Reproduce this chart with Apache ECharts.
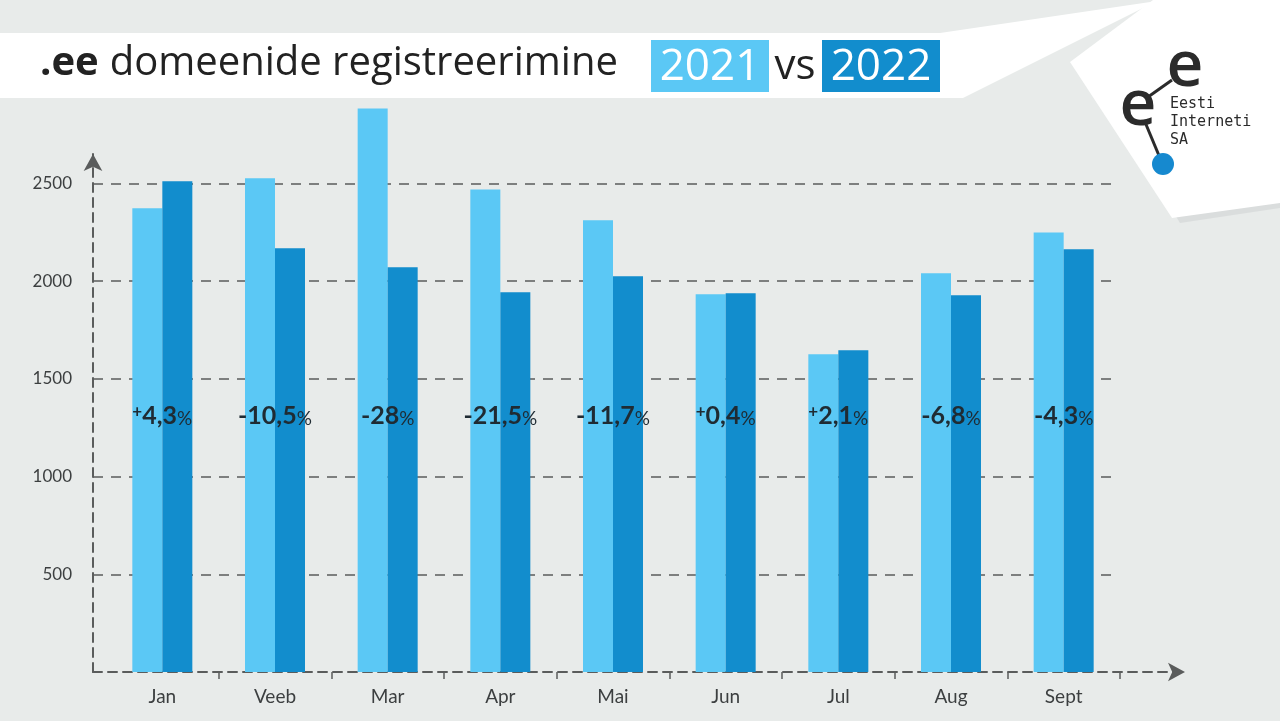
<!DOCTYPE html>
<html>
<head>
<meta charset="utf-8">
<title>.ee domeenide registreerimine</title>
<script src="https://cdn.jsdelivr.net/npm/echarts@6/dist/echarts.min.js"></script>
<style>
  html, body { margin: 0; padding: 0; background: #e8ebea; }
  #chart { width: 1280px; height: 721px; }
</style>
</head>
<body>
<div id="chart"></div>
<script>
// data
const months = ["Jan", "Veeb", "Mar", "Apr", "Mai", "Jun", "Jul", "Aug", "Sept"];
const regs2021 = [2372, 2526, 2883, 2469, 2311, 1933, 1626, 2040, 2249];
const regs2022 = [2510, 2168, 2071, 1943, 2025, 1938, 1646, 1927, 2163];
const changes = ["+4,3", "-10,5", "-28", "-21,5", "-11,7", "+0,4", "+2,1", "-6,8", "-4,3"];
const yTicks = [500, 1000, 1500, 2000, 2500];
const labelLevel = 1310;

const light = "#5bc8f5";
const dark = "#128dcd";
const axisGrey = "#5a5c5c";
const font = "Lato";

const chart = echarts.init(document.getElementById("chart"));

const gridTop = 154;
const gridBottom = 721 - 672;

const option = {
  backgroundColor: "#e8ebea",
  animation: false,
  grid: [
    // bars
    { left: 106, right: 160, top: gridTop, bottom: gridBottom },
    // y axis frame + split lines
    { left: 93, right: 162, top: gridTop, bottom: gridBottom },
    // x axis arrow line
    { left: 93, right: 95, top: gridTop, bottom: gridBottom },
  ],
  xAxis: [
    {
      gridIndex: 0,
      type: "category",
      data: months,
      axisLine: { show: false },
      axisTick: {
        show: true,
        length: 7,
        interval: (i) => i > 0,
        lineStyle: { color: axisGrey, width: 1.5 },
      },
      axisLabel: {
        margin: 15,
        fontFamily: font,
        fontSize: 19,
        color: "#3c3f40",
      },
    },
    { gridIndex: 1, type: "value", min: 0, max: 1, show: false },
    {
      gridIndex: 2,
      type: "value",
      min: 0,
      max: 1,
      axisLine: {
        show: true,
        symbol: ["none", "arrow"],
        symbolSize: [14, 17],
        lineStyle: { color: axisGrey, width: 2, type: [9, 6] },
      },
      axisTick: { show: false },
      axisLabel: { show: false },
      splitLine: { show: false },
    },
  ],
  yAxis: [
    { gridIndex: 0, type: "value", min: 0, max: 2650, show: false },
    {
      gridIndex: 1,
      type: "value",
      min: 0,
      max: 2650,
      interval: 500,
      axisLine: {
        show: true,
        symbol: ["none", "arrow"],
        symbolSize: [14, 17],
        lineStyle: { color: axisGrey, width: 2, type: [9, 6] },
      },
      axisTick: { show: false },
      axisLabel: {
        margin: 21,
        fontFamily: font,
        fontSize: 17,
        color: "#3c3f40",
        formatter: (v) => (yTicks.includes(v) ? String(v) : ""),
      },
      splitLine: {
        show: true,
        showMinLine: false,
        showMaxLine: false,
        lineStyle: { color: axisGrey, width: 1.6, type: [10, 8] },
      },
    },
    { gridIndex: 2, type: "value", min: 0, max: 2650, show: false },
  ],
  series: [
    {
      name: "2021",
      type: "bar",
      xAxisIndex: 0,
      yAxisIndex: 0,
      data: regs2021,
      barWidth: 30,
      barGap: "0%",
      clip: false,
      itemStyle: { color: light },
    },
    {
      name: "2022",
      type: "bar",
      xAxisIndex: 0,
      yAxisIndex: 0,
      data: regs2022,
      barWidth: 30,
      barGap: "0%",
      clip: false,
      itemStyle: { color: dark },
    },
    {
      name: "muutus",
      type: "custom",
      xAxisIndex: 0,
      yAxisIndex: 0,
      z: 10,
      data: changes.map((c, i) => [i, c]),
      renderItem: (params, api) => {
        const idx = api.value(0);
        const pt = api.coord([idx, labelLevel]);
        const txt = changes[idx];
        const sign = txt.charAt(0);
        const num = txt.slice(1);
        const signPart = sign === "+" ? "{s|+}" : "{n|-}";
        return {
          type: "text",
          x: pt[0],
          y: pt[1],
          style: {
            text: signPart + "{n|" + num + "}{p|%}",
            align: "center",
            verticalAlign: "middle",
            rich: {
              n: { fontFamily: font, fontWeight: "bold", fontSize: 25, fill: "#1f2b33" },
              s: { fontFamily: font, fontWeight: "bold", fontSize: 17, fill: "#1f2b33", padding: [0, 0, 9, 0] },
              p: { fontFamily: font, fontSize: 19, fill: "#1f2b33", padding: [5, 0, 0, 0] },
            },
          },
        };
      },
    },
  ],
  graphic: [
    // title banner
    {
      type: "polygon",
      z: -1,
      shape: { points: [[0, 33], [940, 33], [1157, 1], [963, 98], [0, 98]] },
      style: { fill: "#ffffff" },
    },
    {
      type: "text",
      left: 40,
      top: 44,
      style: {
        text: "{b|.ee}{r|domeenide registreerimine}",
        rich: {
          b: { fontFamily: "Open Sans", fontWeight: "bold", fontSize: 40, fill: "#222", padding: [0, 11, 0, 0] },
          r: { fontFamily: "Open Sans", fontSize: 40, fill: "#222" },
        },
      },
    },
    { type: "rect", shape: { x: 651, y: 40, width: 118, height: 52 }, style: { fill: light } },
    {
      type: "text",
      x: 710, y: 67,
      style: { text: "2021", fontFamily: "Open Sans", fontSize: 44, fill: "#fff", align: "center", verticalAlign: "middle" },
    },
    {
      type: "text",
      x: 795, y: 67,
      style: { text: "vs", fontFamily: "Open Sans", fontSize: 42, fill: "#222", align: "center", verticalAlign: "middle" },
    },
    { type: "rect", shape: { x: 822, y: 40, width: 118, height: 52 }, style: { fill: dark } },
    {
      type: "text",
      x: 881, y: 67,
      style: { text: "2022", fontFamily: "Open Sans", fontSize: 44, fill: "#fff", align: "center", verticalAlign: "middle" },
    },
    // logo card
    {
      type: "polygon",
      z: -1,
      shape: { points: [[1160, 190], [1280, 190], [1280, 208], [1180, 223]] },
      style: { fill: "#dadddd" },
    },
    {
      type: "polygon",
      shape: { points: [[1153, 0], [1280, 0], [1280, 203], [1172, 218], [1070, 62]] },
      style: { fill: "#ffffff" },
    },
    { type: "line", shape: { x1: 1148, y1: 97, x2: 1172, y2: 80 }, style: { stroke: "#2b2b2b", lineWidth: 3 } },
    { type: "line", shape: { x1: 1145, y1: 122, x2: 1160, y2: 158 }, style: { stroke: "#2b2b2b", lineWidth: 3 } },
    { type: "circle", shape: { cx: 1163, cy: 164, r: 11 }, style: { fill: "#1689cf" } },
    {
      type: "text", x: 1185, y: 68,
      style: { text: "e", fontFamily: "Open Sans", fontWeight: 600, fontSize: 64, fill: "#2b2b2b", align: "center", verticalAlign: "middle" },
    },
    {
      type: "text", x: 1138, y: 107,
      style: { text: "e", fontFamily: "Open Sans", fontWeight: 600, fontSize: 64, fill: "#2b2b2b", align: "center", verticalAlign: "middle" },
    },
    {
      type: "text", x: 1170, y: 95,
      style: { text: "Eesti\nInterneti\nSA", fontFamily: "DejaVu Sans Mono", fontSize: 15, lineHeight: 18, fill: "#2b2b2b" },
    },
  ],
};

chart.setOption(option);
window.addEventListener("resize", () => chart.resize());
</script>
</body>
</html>
